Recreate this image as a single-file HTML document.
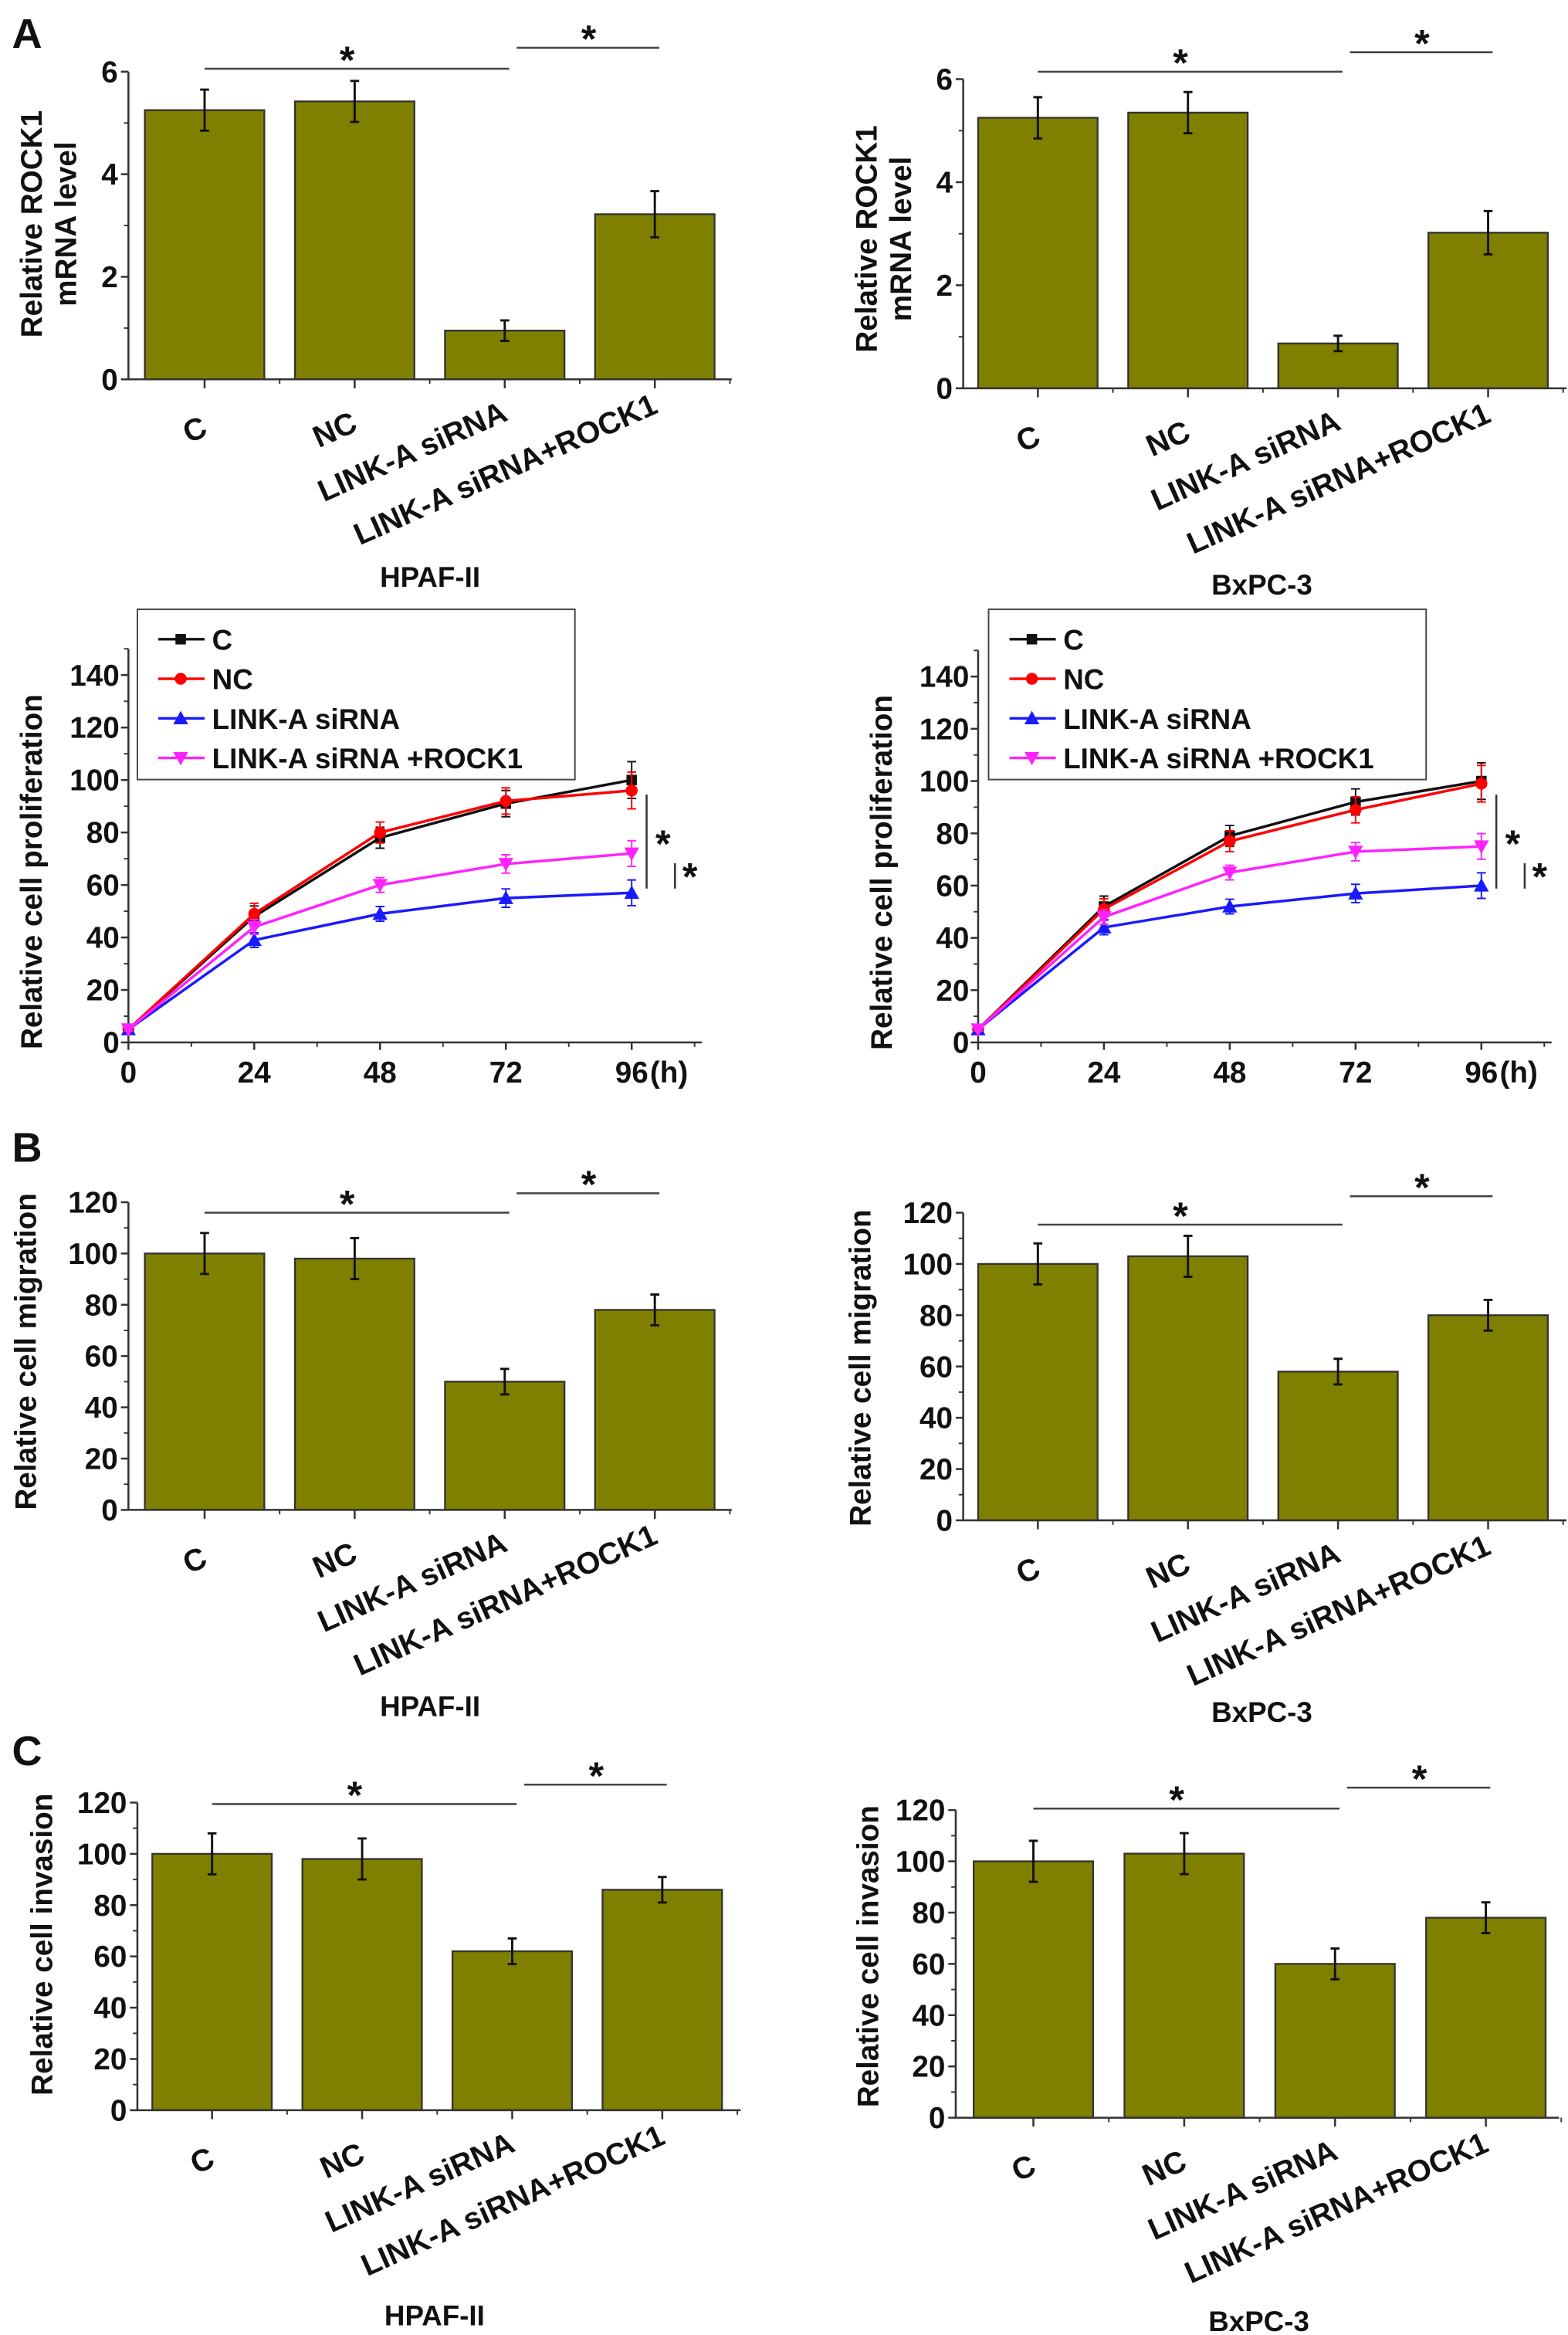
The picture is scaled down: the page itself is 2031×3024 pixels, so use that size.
<!DOCTYPE html>
<html><head><meta charset="utf-8">
<style>
html,body{margin:0;padding:0;background:#fff;}
svg{display:block;}
text{font-family:"Liberation Sans",Arial,sans-serif;font-weight:bold;fill:#111;}
</style></head>
<body>
<svg id="fig" xmlns="http://www.w3.org/2000/svg" width="2031" height="3024" viewBox="0 0 1050 1563.5" preserveAspectRatio="none">
<text x="8" y="32" font-size="28">A</text>
<text x="8" y="778" font-size="28">B</text>
<text x="8" y="1182" font-size="28">C</text>
</svg>
<script>
const NS="http://www.w3.org/2000/svg";
const svg=document.getElementById('fig');
// ---- data ----
const categories=["C","NC","LINK-A siRNA","LINK-A siRNA+ROCK1"];
const rockHpafVals=[5.25,5.42,0.95,3.22];
const rockHpafErr=[0.4,0.4,0.2,0.45];
const rockBxpcVals=[5.25,5.35,0.87,3.02];
const rockBxpcErr=[0.4,0.4,0.15,0.42];
const rockTicks=[0,2,4,6];
const migHpafVals=[100,98,50,78];
const migHpafErr=[8,8,5,6];
const migBxpcVals=[100,103,58,80];
const migBxpcErr=[8,8,5,6];
const invHpafVals=[100,98,62,86];
const invHpafErr=[8,8,5,5];
const invBxpcVals=[100,103,60,78];
const invBxpcErr=[8,8,6,6];
const pctTicks=[0,20,40,60,80,100,120];
const timePoints=[0,24,48,72,96];
const prolTicks=[0,20,40,60,80,100,120,140];
const seriesNames=["C","NC","LINK-A siRNA","LINK-A siRNA +ROCK1"];
const prolHpafC=[5,48,78,91,100];
const prolHpafNC=[5,49,80,92,96];
const prolHpafSi=[5,39,49,55,57];
const prolHpafRock=[5,44,60,68,72];
const prolBxpcC=[5,52,79,92,100];
const prolBxpcNC=[5,51,77,89,99];
const prolBxpcSi=[5,44,52,57,60];
const prolBxpcRock=[5,48,65,73,75];
const prolErr=[1,4,4,5,7];

function el(tag,attrs,parent){const e=document.createElementNS(NS,tag);for(const k in attrs)e.setAttribute(k,attrs[k]);(parent||svg).appendChild(e);return e;}
function txt(s,attrs,parent){const t=el('text',attrs,parent);t.textContent=s;return t;}

function barChart(o){
  const g=el('g',{});
  
  
  const max=o.ticks[o.ticks.length-1];
  const y=v=>o.y0-(v/max)*(o.y0-o.yTop);
  const x=i=>o.x0+o.first+i*o.step;
  o.vals.forEach((v,i)=>{
    const r=el('rect',{x:x(i)-40,y:y(v),width:80,height:o.y0-y(v),fill:'#808000',stroke:'#333','stroke-width':1.2},g);
    
    
    const e=o.err[i];
    el('path',{d:`M${x(i)} ${y(v+e)}V${y(v-e)}M${x(i)-3} ${y(v+e)}h6M${x(i)-3} ${y(v-e)}h6`,stroke:'#111','stroke-width':1.5,fill:'none'},g);
  });
  el('path',{d:`M${o.x0} ${o.yTop}V${o.y0}H${o.x0+o.xLen}`,stroke:'#333','stroke-width':1.3,fill:'none'},g);
  o.ticks.forEach((t,i)=>{
    el('line',{x1:o.x0-5,x2:o.x0,y1:y(t),y2:y(t),stroke:'#333','stroke-width':1.3},g);
    if(i<o.ticks.length-1){const m=y(t+(o.ticks[1]-o.ticks[0])/2);el('line',{x1:o.x0-3,x2:o.x0,y1:m,y2:m,stroke:'#333'},g);}
    const tl=txt(String(t),{x:o.x0-7,y:y(t)+7,'font-size':20,'text-anchor':'end'},g);
    
    
  });
  categories.forEach((c,i)=>{
    el('line',{x1:x(i),x2:x(i),y1:o.y0,y2:o.y0+6,stroke:'#333','stroke-width':1.3},g);
    el('line',{x1:x(i)+o.step/2,x2:x(i)+o.step/2,y1:o.y0,y2:o.y0+3,stroke:'#333'},g);
    const cx=x(i)+3, cy=o.y0+(i===0?37:i===1?34:i===2?27:22);
    const t=txt(c,{x:cx,y:cy,'font-size':20.5,'text-anchor':'end',transform:`rotate(-24 ${cx} ${cy})`},g);
    
    
  });
  const yl=txt('',{transform:`translate(${o.ylx} ${o.ylc}) rotate(-90)`,'font-size':20,'text-anchor':'middle'},g);
  
  
  o.ylabel.forEach((s,k)=>{const ts=el('tspan',{x:0,y:k*23},yl);ts.textContent=s;});
  const tt=txt(o.title,{x:o.tx,y:o.ty,'font-size':19,'text-anchor':'middle'},g);
  
  
  el('line',{x1:x(0),x2:x(2)+3,y1:o.s1,y2:o.s1,stroke:'#444','stroke-width':1.3},g);
  txt('*',{x:(x(0)+x(2))/2-5,y:o.s1+3,'font-size':26,'text-anchor':'middle'},g);
  el('line',{x1:x(2)+8,x2:x(3)+3,y1:o.s2,y2:o.s2,stroke:'#444','stroke-width':1.3},g);
  txt('*',{x:(x(2)+x(3))/2+6,y:o.s2+3,'font-size':26,'text-anchor':'middle'},g);
}

barChart({name:'rock1-hpaf-chart',vals:rockHpafVals,err:rockHpafErr,ticks:rockTicks,x0:86,first:51,step:100.5,xLen:404,y0:254,yTop:48,ylx:28,ylc:150,ylabel:['Relative ROCK1','mRNA level'],title:'HPAF-II',tx:288,ty:393,s1:46,s2:32});
barChart({name:'rock1-bxpc-chart',vals:rockBxpcVals,err:rockBxpcErr,ticks:rockTicks,x0:645,first:50,step:100.5,xLen:404,y0:260,yTop:53,ylx:587,ylc:160,ylabel:['Relative ROCK1','mRNA level'],title:'BxPC-3',tx:845,ty:398,s1:48,s2:35});
barChart({name:'migration-hpaf-chart',vals:migHpafVals,err:migHpafErr,ticks:pctTicks,x0:86,first:51,step:100.5,xLen:404,y0:1011,yTop:805,ylx:24,ylc:905,ylabel:['Relative cell migration'],title:'HPAF-II',tx:288,ty:1149,s1:812,s2:799});
barChart({name:'migration-bxpc-chart',vals:migBxpcVals,err:migBxpcErr,ticks:pctTicks,x0:645,first:50,step:100.5,xLen:404,y0:1018,yTop:812,ylx:583,ylc:916,ylabel:['Relative cell migration'],title:'BxPC-3',tx:845,ty:1153,s1:820,s2:801});
barChart({name:'invasion-hpaf-chart',vals:invHpafVals,err:invHpafErr,ticks:pctTicks,x0:92,first:50,step:100.5,xLen:404,y0:1413,yTop:1207,ylx:35,ylc:1302,ylabel:['Relative cell invasion'],title:'HPAF-II',tx:291,ty:1557,s1:1208,s2:1195});
barChart({name:'invasion-bxpc-chart',vals:invBxpcVals,err:invBxpcErr,ticks:pctTicks,x0:640,first:52,step:101,xLen:404,y0:1418,yTop:1212,ylx:588,ylc:1310,ylabel:['Relative cell invasion'],title:'BxPC-3',tx:843,ty:1561,s1:1211,s2:1197});

const colors=['#111','#f00','#1a1aff','#ff22ff'];
function marker(kind,cx,cy,c,g){
  if(kind===0)return el('rect',{x:cx-3.5,y:cy-3.5,width:7,height:7,fill:c},g);
  if(kind===1)return el('circle',{cx:cx,cy:cy,r:4,fill:c},g);
  if(kind===2)return el('path',{d:`M${cx} ${cy-5}L${cx+5} ${cy+4}H${cx-5}Z`,fill:c},g);
  return el('path',{d:`M${cx} ${cy+5}L${cx+5} ${cy-4}H${cx-5}Z`,fill:c},g);
}
function lineChart(o){
  const g=el('g',{});
  
  
  const y=v=>o.y0-(v/140)*(o.y0-o.yTop);
  const x=t=>o.x0+(t/96)*(o.x96-o.x0);
  el('path',{d:`M${o.x0} ${y(150)}V${o.y0}H${o.x96+47}`,stroke:'#333','stroke-width':1.3,fill:'none'},g);
  prolTicks.forEach(t=>{
    el('line',{x1:o.x0-5,x2:o.x0,y1:y(t),y2:y(t),stroke:'#333','stroke-width':1.3},g);
    el('line',{x1:o.x0-3,x2:o.x0,y1:y(t+10),y2:y(t+10),stroke:'#333'},g);
    const tl=txt(String(t),{x:o.x0-6,y:y(t)+7,'font-size':20,'text-anchor':'end'},g);
    
    
  });
  timePoints.forEach(t=>{
    el('line',{x1:x(t),x2:x(t),y1:o.y0,y2:o.y0+5,stroke:'#333','stroke-width':1.3},g);
    el('line',{x1:x(t+12),x2:x(t+12),y1:o.y0,y2:o.y0+3,stroke:'#333'},g);
    const tl=txt(String(t),{x:x(t),y:o.y0+27,'font-size':20,'text-anchor':'middle'},g);
    
    
  });
  txt('(h)',{x:x(96)+25,y:o.y0+27,'font-size':20,'text-anchor':'middle'},g);
  const yl=txt('Relative cell proliferation',{transform:`translate(${o.x0-58} ${y(65)}) rotate(-90)`,'font-size':20,'text-anchor':'middle'},g);
  
  
  const tt=txt(o.title,{x:o.tx,y:o.y0+55,'font-size':19,'text-anchor':'middle'},g);
  
  
  o.series.forEach((s,k)=>{
    const sg=el('g',{},g);
    
    
    el('polyline',{points:s.map((v,i)=>x(timePoints[i])+','+y(v)).join(' '),fill:'none',stroke:colors[k],'stroke-width':1.8},sg);
    s.forEach((v,i)=>{
      const e=prolErr[i]*(k<2?1:0.7);
      el('path',{d:`M${x(timePoints[i])} ${y(v+e)}V${y(v-e)}M${x(timePoints[i])-3} ${y(v+e)}h6M${x(timePoints[i])-3} ${y(v-e)}h6`,stroke:colors[k],'stroke-width':1},sg);
      marker(k,x(timePoints[i]),y(v),colors[k],sg);
    });
  });
  const lg=el('g',{},g);
  
  
  el('rect',{x:o.lx,y:408,width:293,height:114,fill:'#fff',stroke:'#444','stroke-width':1},lg);
  seriesNames.forEach((n,k)=>{
    const ly=428+k*26.5;
    const e=el('g',{},lg);
    
    
    el('line',{x1:o.lx+14,x2:o.lx+45,y1:ly,y2:ly,stroke:colors[k],'stroke-width':1.8},e);
    marker(k,o.lx+29,ly,colors[k],e);
    txt(n,{x:o.lx+50,y:ly+7,'font-size':19},e);
  });
  el('line',{x1:o.sx,x2:o.sx,y1:532,y2:595,stroke:'#333','stroke-width':1.3},g);
  txt('*',{x:o.sx+11,y:574,'font-size':26,'text-anchor':'middle'},g);
  el('line',{x1:o.sx+19,x2:o.sx+19,y1:578,y2:595,stroke:'#333','stroke-width':1.3},g);
  txt('*',{x:o.sx+29,y:596,'font-size':26,'text-anchor':'middle'},g);
}
lineChart({name:'proliferation-hpaf-chart',x0:86,x96:423,y0:698,yTop:452,tx:257,lx:92,sx:433,series:[prolHpafC,prolHpafNC,prolHpafSi,prolHpafRock]});
lineChart({name:'proliferation-bxpc-chart',x0:655,x96:992,y0:698,yTop:453,tx:822,lx:662,sx:1002,series:[prolBxpcC,prolBxpcNC,prolBxpcSi,prolBxpcRock]});
</script>
</body></html>
